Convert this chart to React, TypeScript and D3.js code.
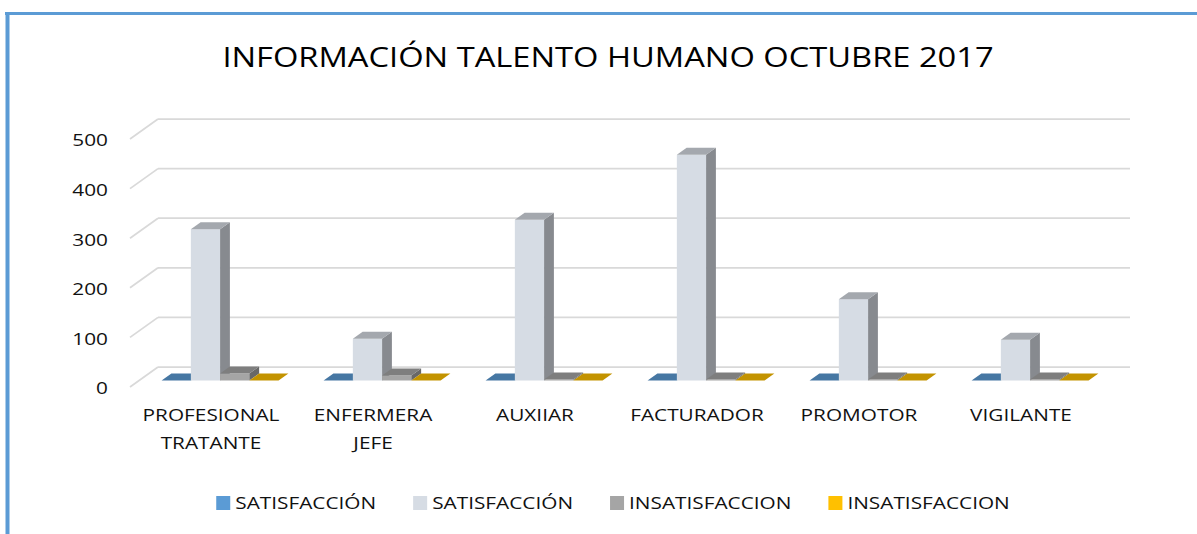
import React, { useRef, useEffect } from 'react';
import * as d3 from 'd3';

const categories = ['PROFESIONAL TRATANTE', 'ENFERMERA JEFE', 'AUXIIAR', 'FACTURADOR', 'PROMOTOR', 'VIGILANTE'];
const seriesNames = ['SATISFACCIÓN', 'SATISFACCIÓN', 'INSATISFACCION', 'INSATISFACCION'];
const seriesColors = ['#5B9BD5', '#D6DCE4', '#A5A5A5', '#FFC000'];
const satisfaccion1 = [0, 0, 0, 0, 0, 0];
const satisfaccion2 = [305, 84, 324, 455, 164, 82];
const insatisfaccion1 = [14, 10, 2, 2, 2, 2];
const insatisfaccion2 = [0, 0, 0, 0, 0, 0];
const yTicks = [0, 100, 200, 300, 400, 500];
const title = 'INFORMACIÓN TALENTO HUMANO OCTUBRE 2017';

const W = 1197;
const H = 534;
const FONT = "'Open Sans', sans-serif";
// the source image is widened, so the text gets a horizontal stretch
const SX = 1.3;
const SX_TITLE = 1.167;

const App = () => {
  const svgRef = useRef<SVGSVGElement>(null);

  useEffect(() => {
    const svg = d3.select(svgRef.current);
    svg.selectAll('*').remove();

    const values = [satisfaccion1, satisfaccion2, insatisfaccion1, insatisfaccion2];

    // floor front edge, the back wall sits at +depth
    const depthX = 28;
    const depthY = -20;
    const y = d3.scaleLinear().domain([0, 500]).range([387, 139]);
    const x = d3.scaleBand().domain(categories).range([130, 1102]);
    const clusterW = 117;
    const xs = d3.scaleBand().domain(d3.range(seriesNames.length).map(String)).range([0, clusterW]);
    const t0 = 0.325;
    const t1 = 0.675;

    // frame
    svg.append('line').attr('x1', 7.5).attr('x2', 7.5).attr('y1', 12).attr('y2', H)
      .attr('stroke', '#5B9BD5').attr('stroke-width', 4);
    svg.append('line').attr('x1', 5).attr('x2', W).attr('y1', 13.5).attr('y2', 13.5)
      .attr('stroke', '#5B9BD5').attr('stroke-width', 3);

    // title
    svg.append('text')
      .attr('transform', `translate(608,67) scale(${SX_TITLE},1)`)
      .attr('text-anchor', 'middle')
      .style('font-family', FONT)
      .style('font-size', '28px')
      .attr('fill', '#000')
      .text(title);

    // gridlines
    const grid = svg.append('g').attr('stroke', '#d9d9d9').attr('stroke-width', 1.75).attr('fill', 'none');
    yTicks.forEach(t => {
      grid.append('line').attr('x1', 130 + depthX).attr('x2', 1102 + depthX)
        .attr('y1', y(t) + depthY).attr('y2', y(t) + depthY);
      grid.append('line').attr('x1', 130).attr('y1', y(t))
        .attr('x2', 130 + depthX).attr('y2', y(t) + depthY);
    });

    // y labels
    svg.selectAll('.ylab')
      .data(yTicks)
      .enter().append('text')
      .attr('class', 'ylab')
      .attr('transform', d => `translate(108,${y(d) + 1}) scale(${SX},1)`)
      .attr('text-anchor', 'end')
      .attr('dominant-baseline', 'central')
      .style('font-family', FONT)
      .style('font-size', '16px')
      .attr('fill', '#111')
      .text(d => d);

    // bars
    const ddx = (t1 - t0) * depthX;
    const ddy = (t1 - t0) * depthY;
    const bars = svg.append('g');
    categories.forEach((c, ci) => {
      values.forEach((vals, si) => {
        const v = vals[ci];
        const col = d3.color(seriesColors[si])!;
        const x0 = x(c)! + (x.bandwidth() - clusterW) / 2 + xs(String(si))! + t0 * depthX;
        const x1 = x0 + xs.bandwidth();
        const yb = y(0) + t0 * depthY;
        const yt = y(v) + t0 * depthY;
        if (v > 0) {
          bars.append('rect').attr('x', x0).attr('y', yt).attr('width', x1 - x0).attr('height', yb - yt)
            .attr('fill', seriesColors[si]);
          bars.append('polygon')
            .attr('points', [[x1, yt], [x1 + ddx, yt + ddy], [x1 + ddx, yb + ddy], [x1, yb]].join(' '))
            .attr('fill', col.darker(1.3).formatHex());
        }
        bars.append('polygon')
          .attr('points', [[x0, yt], [x1, yt], [x1 + ddx, yt + ddy], [x0 + ddx, yt + ddy]].join(' '))
          .attr('fill', col.darker(0.75).formatHex());
      });
    });

    // category labels
    categories.forEach(c => {
      const words = c.split(' ');
      words.forEach((w, i) => {
        svg.append('text')
          .attr('transform', `translate(${x(c)! + x.bandwidth() / 2},${421 + i * 28}) scale(${SX},1)`)
          .attr('text-anchor', 'middle')
          .style('font-family', FONT)
          .style('font-size', '16px')
          .attr('fill', '#111')
          .text(w);
      });
    });

    // legend
    const legend = svg.append('g');
    const items = seriesNames.map((name, i) => {
      const g = legend.append('g');
      g.append('rect').attr('x', 0).attr('y', -7).attr('width', 14).attr('height', 14)
        .attr('fill', seriesColors[i]);
      const t = g.append('text')
        .attr('transform', `translate(19,0) scale(${SX},1)`)
        .attr('dominant-baseline', 'central')
        .style('font-family', FONT)
        .style('font-size', '16px')
        .attr('fill', '#111')
        .text(name);
      const w = 19 + (t.node() as SVGTextElement).getComputedTextLength() * SX;
      return { g, w };
    });
    const gap = 37;
    const total = d3.sum(items, d => d.w) + gap * (items.length - 1);
    let cx = 613 - total / 2;
    items.forEach(it => {
      it.g.attr('transform', `translate(${cx},503)`);
      cx += it.w + gap;
    });
  }, []);

  return (
    <svg ref={svgRef} width={W} height={H}
      style={{ position: 'absolute', left: 0, top: 0, display: 'block', background: '#fff' }} />
  );
};

export default App;
